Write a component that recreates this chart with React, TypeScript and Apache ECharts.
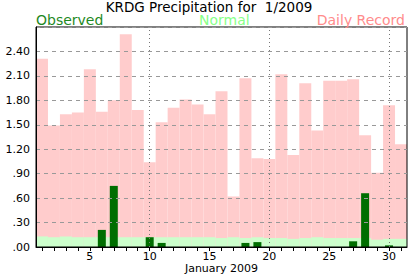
import React, { useEffect, useRef } from "react";
import * as echarts from "echarts";

const days = Array.from({ length: 31 }, (_, i) => String(i + 1));
const recordValues = [
  2.31, 1.49, 1.63, 1.65, 2.18, 1.66, 1.8, 2.61, 1.68, 1.04,
  1.53, 1.71, 1.81, 1.75, 1.63, 1.91, 0.62, 2.07, 1.09, 1.08,
  2.12, 1.13, 2.01, 1.43, 2.04, 2.04, 2.06, 1.37, 0.91, 1.74, 1.26,
];
const normalValues = [
  0.13, 0.12, 0.13, 0.12, 0.12, 0.12, 0.12, 0.12, 0.12, 0.12,
  0.12, 0.12, 0.12, 0.12, 0.12, 0.11, 0.12, 0.11, 0.12, 0.11,
  0.11, 0.1, 0.11, 0.12, 0.11, 0.11, 0.11, 0.11, 0.09, 0.1, 0.1,
];
const observedValues = [
  0, 0, 0, 0, 0, 0.21, 0.75, 0, 0, 0.12,
  0.05, 0, 0, 0, 0, 0, 0, 0.05, 0.06, 0,
  0, 0, 0, 0, 0, 0, 0.07, 0.66, 0, 0.02, 0,
];
const gridDays = ["10", "20", "30"];
const titleText = "KRDG Precipitation for  1/2009";

const fmtY = (v: number) => {
  if (v > 2.65) return "";
  const s = v.toFixed(2);
  return v < 1 ? s.slice(1) : s;
};

export default function App() {
  const ref = useRef<HTMLDivElement>(null);
  useEffect(() => {
    document.body.style.margin = "0";
    if (!ref.current) return;
    const chart = echarts.init(ref.current, null, { renderer: "svg" });
    const font = "DejaVu Sans";
    const legendText = (text: string, x: number, fill: string, align: string) => ({
      type: "text",
      x,
      y: 19.5,
      style: {
        text,
        fill,
        font: `14px "${font}"`,
        lineHeight: 14,
        textAlign: align,
        textVerticalAlign: "middle",
      },
    });
    chart.setOption({
      animation: false,
      backgroundColor: "#ffffff",
      textStyle: { fontFamily: font },
      grid: {
        left: 36,
        right: 10,
        top: 27,
        bottom: 29,
        containLabel: false,
        outerBoundsMode: "none",
        show: true,
        borderColor: "#000",
        borderWidth: 1,
        backgroundColor: "transparent",
      },
      graphic: [
        {
          type: "text",
          x: 209,
          y: 7.3,
          style: {
            text: titleText,
            fill: "#000",
            font: `13.5px "${font}"`,
            lineHeight: 12,
            textAlign: "center",
            textVerticalAlign: "middle",
          },
        },
        legendText("Observed", 36, "#1f8a1f", "left"),
        legendText("Normal", 199, "#88ff88", "left"),
        legendText("Daily Record", 405, "#ff8c8c", "right"),
      ],
      xAxis: [
        {
          type: "category",
          data: days,
          boundaryGap: true,
          axisLine: { show: true, lineStyle: { color: "#000", width: 1 } },
          axisTick: {
            show: true,
            alignWithLabel: true,
            interval: 0,
            length: 4,
            lineStyle: { color: "#000" },
          },
          axisLabel: {
            interval: (i: number) => (i + 1) % 5 === 0,
            color: "#000",
            fontSize: 11,
            fontFamily: font,
            margin: 4,
          },
          splitLine: { show: false },
          name: "January 2009",
          nameLocation: "middle",
          nameGap: 15,
          nameMoveOverlap: false,
          nameTextStyle: { color: "#000", fontSize: 11, fontFamily: font, lineHeight: 12 },
        },
        {
          type: "category",
          data: days,
          boundaryGap: true,
          show: false,
        },
      ],
      yAxis: {
        type: "value",
        min: 0,
        max: 2.7,
        interval: 0.3,
        axisLine: { show: true, lineStyle: { color: "#000", width: 1 } },
        axisTick: { show: false },
        axisLabel: {
          formatter: fmtY,
          color: "#000",
          fontSize: 11,
          fontFamily: font,
          margin: 6,
        },
        splitLine: {
          show: true,
          lineStyle: { color: "#999", type: [4, 4], width: 1 },
        },
      },
      series: [
        {
          type: "bar",
          name: "Daily Record",
          data: recordValues,
          xAxisIndex: 0,
          barGap: "-100%",
          barCategoryGap: "0%",
          itemStyle: { color: "#ffcccc" },
          z: -2,
          silent: true,
        },
        {
          type: "bar",
          name: "Normal",
          data: normalValues,
          xAxisIndex: 0,
          barGap: "-100%",
          barCategoryGap: "0%",
          itemStyle: { color: "#ccffcc" },
          z: -1,
          silent: true,
        },
        {
          type: "bar",
          name: "Observed",
          data: observedValues,
          xAxisIndex: 1,
          barWidth: 8,
          itemStyle: { color: "#006e00" },
          z: -1,
          silent: true,
          markLine: {
            silent: true,
            symbol: "none",
            label: { show: false },
            lineStyle: { color: "#777", type: [1, 3], width: 1 },
            data: gridDays.map((d) => ({ xAxis: d })),
          },
        },
      ],
    });
    return () => chart.dispose();
  }, []);
  return <div ref={ref} style={{ width: 417, height: 276 }} />;
}
